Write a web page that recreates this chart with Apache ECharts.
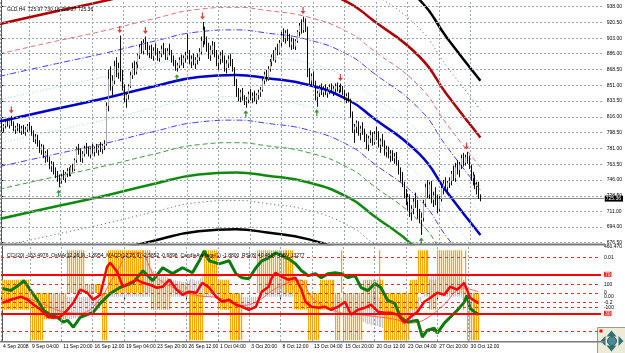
<!DOCTYPE html>
<html><head><meta charset="utf-8">
<script src="https://cdn.jsdelivr.net/npm/echarts@6/dist/echarts.min.js"></script>
<style>html,body{margin:0;padding:0;background:#fff}#c{width:625px;height:353px}</style>
</head><body><div id="c"></div><script>
// ---------- DATA ----------
const titleText = 'GLD,H4  725.97 730.18 722.27 725.36';
const subTitleText = 'CCI(20) -153.4976  OsMA(12,26,9) -1.8954  MACD(12,26,9) -2.5852 -0.6898  CandleAverage(1) -1.8800  RSI(8) 40.4617  OBV 13277';
const priceTicks = [676.5,694,711,728.5,746,763.5,781,798.5,816,833.5,851,868.5,886,903,920.5,938];
const timeTickIdx = [-0.76,14,30,46,62,78,94,110,126,142,158,174,190,206,222,238];
const timeTickLabels = ['4 Sep 2008','9 Sep 04:00','11 Sep 20:00','16 Sep 12:00','19 Sep 04:00','23 Sep 20:00','26 Sep 12:00','1 Oct 04:00','3 Oct 20:00','8 Oct 12:00','13 Oct 04:00','15 Oct 20:00','20 Oct 12:00','23 Oct 04:00','27 Oct 20:00','30 Oct 12:00'];
const lastPrice = 725.36;
// [open, high, low, close] per H4 bar
const ohlc = [
[806,810,800,804],[804,808,799,806],[806,812,803,810],[810,814,805,807],[807,812,803,811],[811,817,806,808],[808,811,800,802],[802,806,797,804],[804,809,800,805],[805,808,798,800],
[800,806,796,803],[803,807,797,799],[799,805,795,802],[802,808,799,806],[806,810,801,803],[803,806,795,797],[797,801,788,791],[791,797,786,794],[794,796,783,785],[785,790,776,779],
[779,786,774,783],[783,785,770,772],[772,778,765,776],[776,780,766,768],[768,772,758,761],[761,767,755,764],[764,766,752,755],[755,760,748,751],[751,756,744,748],[748,752,738,745],
[745,753,742,750],[750,757,746,748],[748,755,743,753],[753,759,749,756],[756,760,750,752],[752,762,750,760],[760,764,755,758],[758,770,756,768],[768,783,765,780],[780,786,774,776],
[776,781,766,770],[770,778,765,775],[775,784,772,781],[781,787,775,778],[778,783,772,774],[774,782,770,780],[780,786,775,777],[777,783,772,781],[781,786,776,779],[779,784,773,782],
[782,788,777,780],[780,786,775,784],[784,790,779,786],[786,832,784,828],[828,868,822,858],[858,872,845,850],[850,862,840,856],[856,878,852,872],[872,882,860,865],[865,876,858,870],
[870,906,855,862],[862,868,845,848],[848,852,832,836],[836,842,826,840],[840,852,835,850],[850,866,848,862],[862,876,858,870],[870,878,862,866],[866,877,863,874],[874,886,870,884],
[884,896,880,893],[893,900,886,889],[889,902,885,898],[898,905,890,894],[894,899,884,887],[887,895,881,890],[890,896,880,883],[883,893,878,889],[889,897,884,886],[886,892,878,881],
[881,889,877,886],[886,895,882,891],[891,898,885,887],[887,892,879,882],[882,892,879,889],[889,897,884,886],[886,890,876,879],[879,884,872,875],[875,879,867,870],[870,876,866,873],
[873,882,870,879],[879,885,873,876],[876,884,870,881],[881,888,876,884],[884,908,880,886],[886,890,874,877],[877,884,870,880],[880,886,873,875],[875,882,869,879],[879,886,874,882],
[882,892,878,888],[888,905,885,900],[900,921,893,912],[912,916,896,899],[899,905,888,892],[892,898,880,884],[884,895,878,890],[890,900,885,895],[895,899,882,886],[886,890,872,876],
[876,884,868,880],[880,888,874,884],[884,890,876,878],[878,884,866,870],[870,879,864,875],[875,884,870,880],[880,886,872,874],[874,880,866,869],[869,871,850,853],[853,858,838,842],
[842,848,833,838],[838,846,832,843],[843,848,834,836],[836,840,829,833],[833,838,826,835],[835,844,831,841],[841,847,834,837],[837,843,831,839],[839,845,833,835],[835,842,830,840],
[840,846,835,843],[843,849,838,846],[846,858,844,856],[856,866,852,863],[863,868,855,858],[858,872,856,869],[869,880,866,877],[877,885,872,882],[882,890,878,879],[879,893,876,890],
[890,897,884,887],[887,901,885,898],[898,910,894,906],[906,914,899,903],[903,912,897,909],[909,913,900,902],[902,908,893,896],[896,904,890,899],[899,903,891,894],[894,902,890,900],
[900,912,898,910],[910,920,905,917],[917,924,908,912],[912,927,909,921],[921,925,910,914],[914,916,860,866],[866,870,852,856],[856,864,849,861],[861,866,850,853],[853,856,834,838],
[838,845,827,842],[842,851,838,848],[848,853,840,843],[843,850,838,846],[846,852,840,842],[842,849,837,845],[845,852,841,849],[849,853,842,844],[844,850,839,847],[847,853,843,850],
[850,854,844,846],[846,851,842,849],[849,853,843,845],[845,850,840,843],[843,846,834,837],[837,842,831,839],[839,843,832,834],[834,836,815,818],[818,822,798,802],[802,808,787,805],
[805,812,798,809],[809,811,795,798],[798,806,790,803],[803,810,796,800],[800,803,788,791],[791,797,780,785],[785,795,778,792],[792,801,787,796],[796,799,784,788],[788,800,785,797],
[797,805,790,794],[794,800,782,785],[785,792,776,789],[789,797,783,786],[786,790,773,777],[777,784,771,780],[780,783,770,773],[773,779,766,775],[775,779,767,770],[770,776,764,772],
[772,777,762,765],[765,768,752,755],[755,760,744,748],[748,755,738,741],[741,744,726,730],[730,736,718,722],[722,731,712,727],[727,730,705,710],[710,718,701,714],[714,726,708,722],
[722,732,715,718],[718,724,703,707],[707,714,698,702],[702,710,685,704],[704,724,700,720],[720,742,716,738],[738,746,726,730],[730,744,725,741],[741,745,720,724],[724,733,716,729],
[729,738,718,722],[722,730,709,714],[714,728,711,725],[725,740,722,737],[737,746,730,742],[742,749,734,738],[738,745,731,743],[743,749,737,745],[745,756,740,753],[753,762,745,748],
[748,765,744,760],[760,768,752,757],[757,766,749,763],[763,774,758,770],[770,776,761,765],[765,774,762,771],[771,777,764,768],[768,773,758,761],[761,763,745,748],[748,755,740,751],
[751,752,736,739],[739,744,730,741],[741,744,725,726],[725.97,730.18,722.27,725.36]
];
const upFractalIdx = [5,60,73,102,153,172,236];
const downFractalIdx = [29,89,124,160,213];
// regression centre line read at bar positions
const regIdx = [-1,25,53,76,100,119,134,156,176,188,212,226,243];
const regCenter = [810.8,823.5,836.8,849.0,860.1,862.3,859.0,851.2,834.6,815.8,774.8,732.7,685.0];
const regBandOffsets = [24,50,75,108,139,171];
// bottom window (RSI scale 0..100 window)
const rsiIdx = [0,4.3,9.4,12.9,15.9,19.5,23,26,29.6,33.2,36.2,39.7,43.3,46.3,49.9,53.4,55,58.5,61.5,65.1,68.6,71.7,75.2,78.7,81.8,85.3,88.9,91.9,95.4,99,102,105.6,109.1,112.2,115.7,119.2,122.3,125.8,129.4,132.4,135.9,137.5,139.5,142.5,146.1,149.6,152.7,154.7,157.7,161.3,164.8,167.8,171.4,174.9,178,181.5,185.1,188.1,191.7,195.2,198.2,201.8,205.3,208.4,211.9,215.4,218.5,222,225.6,228.6,232.2,235.7,237.2,238.7,243];
const rsiVal = [40.8,43.9,47,43.9,38.8,33.6,26.5,25.4,26.5,33.6,40.8,54.2,51.1,43.9,49,77.7,81.8,72.6,57.2,61.3,64.4,61.3,59.3,56.2,57.2,64.4,54.2,49,52.1,51.1,61.3,56.2,47,41.8,43.9,38.8,36.7,33.6,36.7,52.1,57.2,66.5,71.6,67.5,64.4,66.5,54.2,41.8,36.7,35.7,36.7,33.6,36.7,41.8,28.5,33.6,35.7,38.8,31.6,30.6,30.6,28.5,20.3,26.5,31.6,41.8,45.9,51.1,49,57.2,54.2,61.3,54.2,45.9,40.46];
const cciIdx = [0,4.3,9.4,10.9,14.4,18,21,24.6,28,31.1,33.2,36.2,39.7,46.3,49.9,55,60,66.6,71.7,76.7,81.8,86.8,91.9,97,100.5,103,105.6,110.6,115.7,119.2,122.3,125.8,129.4,132.4,135.9,139.5,142.5,146.1,149.6,152.7,156.2,159.8,162.8,166.3,169.9,172.9,176.5,180,183.1,186.6,190.1,193.2,196.7,200.3,203.3,206.8,211.9,214.4,216.9,220.5,222,225.6,228.6,232.2,235.7,237.2,238.7,241.3,243];
const cciVal = [80,62,124,151,62,-27,-115,-159,-177,-221,-204,-266,-177,-133,-53,35,89,133,239,151,266,213,266,221,328,416,328,301,328,213,177,168,266,328,354,399,372,345,301,239,195,213,177,213,221,213,177,195,89,62,124,89,-27,-53,-177,-221,-204,-354,-292,-275,-319,-230,-177,-115,-44,18,-97,-133,-153.5];
const sigIdx = [0,10,20,30,40,50,55,60,63,70,78,90,100,110,122,130,140,152,158,170,185,200,208,215,225,235,240,243];
const sigVal = [44,46,40,32,30,45,62,78,90,92,68,54,48,46,38,42,56,64,46,32,28,24,20,23,38,56,54,52];
const osmaBar = [49,50,51,50,49,48,47,46,46,45,46,47,48,47,46,45,44,43,42,41,40,39,37,35,33,31,30,29,28,27,26,26,25,25,24,24,25,25,26,27,27,28,29,29,30,31,32,33,34,36,38,40,42,45,52,60,68,76,82,86,89,90,91,92,91,90,88,87,86,85,85,84,83,82,80,78,76,74,72,70,70,69,68,68,67,66,65,64,64,63,63,62,62,62,63,64,65,65,64,63,64,66,68,69,68,66,64,62,61,60,59,58,56,54,52,50,48,46,44,42,40,38,36,35,34,34,35,36,38,41,45,50,55,60,64,67,69,71,72,73,73,73,72,72,71,70,69,67,65,62,60,58,55,50,45,40,37,35,34,33,33,33,34,34,35,35,35,36,36,36,36,37,37,36,35,34,32,30,28,26,25,24,23,22,21,20,19,19,18,18,17,17,16,16,15,15,15,14,14,14,14,14,13,13,13,14,15,17,20,23,27,31,36,42,48,54,59,63,66,68,70,71,72,72,72,71,70,69,68,67,66,65,63,62,61,59,57,54,50,47,45,44,43,43];
// orange CandleAverage bars, one char per bar: U full up, u short up, D full down, d short down, x across zero, . none
const candleAvgCode = ['xxxxxxxxxxxxxx','DDDDDDD','dddddddddddd','UUUUUUUUU','uuuuuuuuu','DDD','UUUUUUUU','UUUUUUUUUUUUUU',
  'xxxxxxxxxx','uuuuuuuuu','DDDDDDDD','UUUUUUU','xxxxxx','DDDDDDD','.......','UUUUUUUUUUUUUUUUUUU','xxxxxxx','DDDDDD',
  'xxxxxxxx','DDD','U','DDDDDDDDDD','xxxxxxxx','U','xx','DDDDDDDDDDDDD','xxxx','UUUUUU','xxxx','UUUUUUUUUUUUU','x','U','DDDDDDD'].join('');
const subLabelVals = [98.4,87,70,59.3,50.8,47,41.1,35.7,30];
const subLabelTexts = ['460.470','0.01','70','100','0','0.00','-0.2','-100','30'];
const subDashLevels = [87,59.3,50.8,41.1,35.7,12.1];
const rsiLevels = [70,30];

// ---------- CHART ----------
const XMIN = -0.76, XMAX = -0.76 + 605/1.975;
const PMIN = 675.06, PMAX = 945.4;
const FS = 5;
const chart = echarts.init(document.getElementById('c'), null, {renderer:'canvas'});
const font = 'Liberation Sans';
function lab(v){ for(let k=0;k<timeTickIdx.length;k++){ if(Math.abs(timeTickIdx[k]-v)<0.01) return timeTickLabels[k]; } return ''; }
function subLab(v){ for(let k=0;k<subLabelVals.length;k++){ if(Math.abs(subLabelVals[k]-v)<0.01){ const t=subLabelTexts[k]; return (t==='70'||t==='30')?'{r|'+t+'}':t; } } return ''; }
const gridLine = {color:'#9aa6b6', type:[2,2], width:1};
function bandLine(k, sign, style){
  return {type:'line', xAxisIndex:0, yAxisIndex:0, smooth:0.5, symbol:'none', silent:true,
    data: regIdx.map((ix,n)=>[ix, regCenter[n] + sign*(k>0?regBandOffsets[k-1]:0)]), lineStyle:style, z:3};
}
const upArrow = 'path://M4,0 L8,4 L5,4 L5,9 L3,9 L3,4 L0,4 Z';
const downArrow = 'path://M3,0 L5,0 L5,5 L8,5 L4,9 L0,5 L3,5 Z';
const codeRange = {U:[50.8,94.6], u:[50.8,60], D:[2.4,50.8], d:[24,50.8], x:[33.6,64.4]};
const orangeData = [];
for (let i=0;i<candleAvgCode.length;i++){ const r = codeRange[candleAvgCode[i]]; if(r) orangeData.push([i, r[0], r[1]]); }

const option = {
  animation:false,
  backgroundColor:'#ffffff',
  textStyle:{fontFamily:font},
  grid:[{left:0, top:0, width:605, height:244},{left:0, top:246, width:605, height:95}],
  xAxis:[
    {type:'value', gridIndex:0, min:XMIN, max:XMAX, axisLine:{show:false}, axisTick:{show:false}, axisLabel:{show:false}, splitLine:{show:false}},
    {type:'value', gridIndex:1, min:XMIN, max:XMAX, axisLine:{show:false}, splitLine:{show:false},
     axisTick:{show:true, customValues:timeTickIdx, length:3, lineStyle:{color:'#000'}},
     axisLabel:{customValues:timeTickIdx, formatter:lab, align:'left', fontSize:FS, color:'#000', margin:3, padding:[0,0,0,2], hideOverlap:false}}
  ],
  yAxis:[
    {type:'value', gridIndex:0, position:'right', min:PMIN, max:PMAX, splitLine:{show:false},
     axisLine:{show:true, lineStyle:{color:'#555', width:1}}, axisTick:{show:true, customValues:priceTicks, length:2, lineStyle:{color:'#000'}},
     axisLabel:{customValues:priceTicks, formatter:v=>v.toFixed(2), fontSize:FS, color:'#000', margin:3}},
    {type:'value', gridIndex:1, position:'right', min:1.6, max:99, splitLine:{show:false},
     axisLine:{show:true, lineStyle:{color:'#555', width:1}}, axisTick:{show:false},
     axisLabel:{customValues:subLabelVals, formatter:subLab, fontSize:FS, color:'#000', margin:3,
       rich:{r:{backgroundColor:'#ff2020', color:'#fff', fontSize:FS, padding:[0,1,0,1]}}}},
    {type:'value', gridIndex:1, min:-389.7, max:460.47, show:false}
  ],
  title:[
    {text:titleText, left:2, top:2, textStyle:{fontSize:FS, fontWeight:'normal', color:'#000', fontFamily:font}},
    {text:subTitleText, left:2, top:248, textStyle:{fontSize:FS, fontWeight:'normal', color:'#000', fontFamily:font}}
  ],
  series:[
    {type:'line', xAxisIndex:0, yAxisIndex:0, data:[], silent:true,
     markLine:{silent:true, symbol:'none', animation:false, label:{show:false}, lineStyle:gridLine,
       data: priceTicks.map(v=>({yAxis:v})).concat(timeTickIdx.map(v=>({xAxis:v})))}},
    {type:'line', xAxisIndex:1, yAxisIndex:1, data:[], silent:true,
     markLine:{silent:true, symbol:'none', animation:false, label:{show:false}, lineStyle:gridLine,
       data: timeTickIdx.map(v=>({xAxis:v}))}},
    bandLine(6, 1, {color:'#000', width:2.5}),
    bandLine(5, 1, {color:'#555', width:1, type:[1,3]}),
    bandLine(4, 1, {color:'#b00000', width:2.5}),
    bandLine(3, 1, {color:'#e07070', width:1, type:[5,3]}),
    bandLine(2, 1, {color:'#3b3bff', width:1, type:[6,2,1,2]}),
    bandLine(1, 1, {color:'#9fd8d8', width:1, type:[1,2]}),
    bandLine(0, 1, {color:'#0000cc', width:2.5}),
    bandLine(1, -1, {color:'#9fd8d8', width:1, type:[1,2]}),
    bandLine(2, -1, {color:'#3b3bff', width:1, type:[6,2,1,2]}),
    bandLine(3, -1, {color:'#3a9a3a', width:1, type:[5,3]}),
    bandLine(4, -1, {color:'#0f8a0f', width:2.5}),
    bandLine(5, -1, {color:'#555', width:1, type:[1,3]}),
    bandLine(6, -1, {color:'#000', width:2.5}),
    // price bars: 1px wick + 1px body
    {type:'custom', xAxisIndex:0, yAxisIndex:0, z:5, silent:true,
     data: ohlc.map((b,i)=>[i,b[0],b[1],b[2],b[3]]),
     renderItem:(params, api)=>{
       const i=api.value(0), o=api.value(1), h=api.value(2), l=api.value(3), c=api.value(4);
       const ph=api.coord([i,h]), pl=api.coord([i,l]), po=api.coord([i,o]), pc=api.coord([i,c]);
       const x=Math.round(ph[0])+0.5;
       return {type:'group', children:[
         {type:'line', shape:{x1:x, y1:ph[1], x2:x, y2:pl[1]}, style:{stroke:'#111', lineWidth:1}},
         {type:'line', shape:{x1:x, y1:po[1], x2:x, y2:pc[1]+(c===o?1:0)}, style:{stroke:c>=o?'#a8a8a8':'#000', lineWidth:1}}
       ]};
     },
     markLine:{silent:true, symbol:'none', animation:false, lineStyle:{color:'#8a8a8a', type:'solid', width:1},
       label:{show:true, position:'end', formatter:()=>lastPrice.toFixed(2), backgroundColor:'#000', color:'#fff', fontSize:FS, padding:[1,2,0,1], distance:1},
       data:[{yAxis:lastPrice}]}},
    {type:'scatter', xAxisIndex:0, yAxisIndex:0, z:6, symbol:downArrow, symbolSize:[5,7], symbolOffset:[0,-6],
     itemStyle:{color:'#d01010'}, data: upFractalIdx.map(i=>[i, ohlc[i][1]])},
    {type:'scatter', xAxisIndex:0, yAxisIndex:0, z:6, symbol:upArrow, symbolSize:[5,7], symbolOffset:[0,6],
     itemStyle:{color:'#0a7a0a'}, data: downFractalIdx.map(i=>[i, ohlc[i][2]])},
    {type:'custom', xAxisIndex:1, yAxisIndex:1, z:2, silent:true, data: orangeData,
     renderItem:(params, api)=>{ const p0=api.coord([api.value(0), api.value(1)]); const p1=api.coord([api.value(0), api.value(2)]);
       return {type:'rect', shape:{x:Math.round(p0[0]), y:p1[1], width:1.2, height:p0[1]-p1[1]}, style:{fill:'#ffa500'}}; }},
    {type:'custom', xAxisIndex:1, yAxisIndex:1, z:1, silent:true, data: osmaBar.map((v,i)=>[i,v]),
     renderItem:(params, api)=>{ const p0=api.coord([api.value(0), 47]); const p1=api.coord([api.value(0), api.value(1)]);
       return {type:'rect', shape:{x:Math.round(p0[0]), y:Math.min(p0[1],p1[1]), width:1.2, height:Math.abs(p0[1]-p1[1])}, style:{fill:'#c4c4c4'}}; }},
    {type:'line', xAxisIndex:1, yAxisIndex:1, z:3, symbol:'none', silent:true,
     markLine:{silent:true, symbol:'none', animation:false, label:{show:false},
       data: subDashLevels.map(v=>({yAxis:v, lineStyle:{color:'#e03030', type:[3,3], width:1}}))
         .concat(rsiLevels.map(v=>({yAxis:v, lineStyle:{color:'#ff0000', type:'solid', width:2}})))},
     data: sigIdx.map((ix,n)=>[ix, sigVal[n]]), smooth:0.4, lineStyle:{color:'#ff6060', width:1}},
    {type:'line', xAxisIndex:1, yAxisIndex:2, z:4, symbol:'none', silent:true,
     data: cciIdx.map((ix,n)=>[ix, cciVal[n]]), lineStyle:{color:'#0a7a0a', width:3}},
    {type:'line', xAxisIndex:1, yAxisIndex:1, z:5, symbol:'none', silent:true,
     data: rsiIdx.map((ix,n)=>[ix, rsiVal[n]]), lineStyle:{color:'#ff0000', width:2.5}}
  ],
  graphic:[
    {type:'rect', shape:{x:0, y:243.5, width:605, height:2}, style:{fill:'#7a7a7a'}, z:100},
    {type:'rect', shape:{x:0, y:341, width:605, height:1.5}, style:{fill:'#7a7a7a'}, z:100},
    {type:'group', left:597, top:327, z:100, children:[
      {type:'rect', shape:{x:0, y:0, width:28, height:26}, style:{fill:'#ecebd8', stroke:'#9a9a8a', lineWidth:1}},
      {type:'rect', shape:{x:2, y:2, width:3, height:3}, style:{fill:'#ff0000'}},
      {type:'polygon', shape:{points:[[14,3],[19,9],[9,9]]}, style:{fill:'#2e6e74'}},
      {type:'polygon', shape:{points:[[14,24],[19,18],[9,18]]}, style:{fill:'#2e6e74'}},
      {type:'polygon', shape:{points:[[3,13.5],[8,8.5],[8,18.5]]}, style:{fill:'#2e6e74'}},
      {type:'polygon', shape:{points:[[26,13.5],[21,8.5],[21,18.5]]}, style:{fill:'#2e6e74'}},
      {type:'circle', shape:{cx:14.5, cy:13.5, r:4.5}, style:{fill:'#4a8a90', stroke:'#2e5e64'}}
    ]}
  ]
};
chart.setOption(option);
</script></body></html>
